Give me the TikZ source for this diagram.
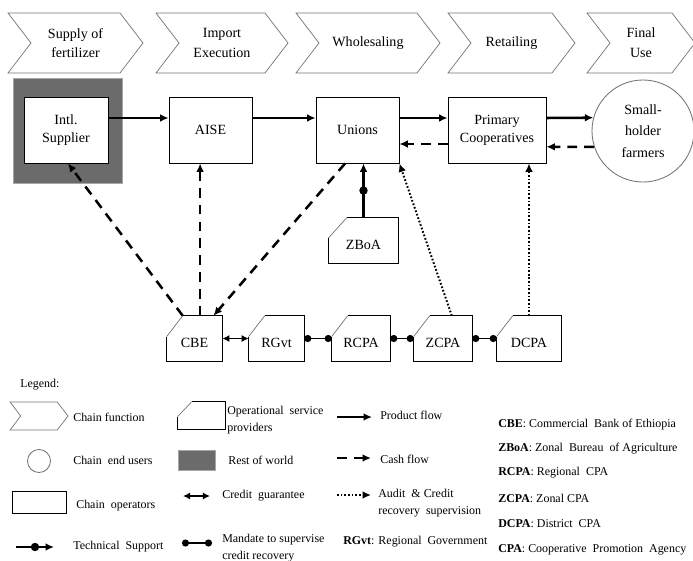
\documentclass[tikz,border=0pt]{standalone}
\usepackage{fontspec}
\setmainfont{Liberation Serif}
\usetikzlibrary{arrows.meta,shapes.symbols,decorations.markings}

\begin{document}
\begin{tikzpicture}[
    x=0.025cm,y=-0.025cm,
    chev/.style={signal, signal from=west, signal to=east, signal pointer angle=105, draw=black!55, line width=0.5pt, minimum height=1.5cm, inner sep=0pt, font=\fontsize{10}{14}\selectfont, align=center},
    box/.style={draw=black, line width=0.6pt, fill=white, minimum height=1.65cm, inner sep=2pt, font=\fontsize{10}{13}\selectfont, align=center},
    world/.style={fill=black!58, draw=black!35, minimum width=2.725cm, minimum height=2.625cm},
    user/.style={circle, draw=black!55, line width=0.6pt, minimum size=2.55cm, inner sep=0pt, font=\fontsize{10}{15.5}\selectfont, align=center},
    op/.style={minimum height=1.125cm, inner sep=0pt, text height=13.5pt, text depth=0pt, font=\fontsize{10}{12}\selectfont},
    opline/.style={draw=black, line width=0.6pt},
    opcut/.style={draw=black!55, line width=0.5pt},
    product/.style={-{Latex[length=6pt,width=5.5pt]}, line width=1.8pt},
    cash/.style={product, dash pattern=on 7pt off 5pt},
    audit/.style={-{Latex[length=6pt,width=5.5pt]}, line width=1.4pt, dash pattern=on 1.2pt off 1.4pt},
    guar/.style={{Latex[length=5pt,width=5pt]}-{Latex[length=5pt,width=5pt]}, line width=1.4pt},
    mandate/.style={{Circle[length=5pt]}-{Circle[length=5pt]}, line width=1.4pt},
    tech/.style={-{Latex[length=6pt,width=5.5pt]}, line width=1.6pt, postaction={decorate}, decoration={markings, mark=at position 0.5 with {\fill (0,0) circle (3pt);}}},
    lab/.style={font=\fontsize{8.5}{12}\selectfont, anchor=west, align=left, inner sep=0pt}
  ]
    \useasboundingbox (0,0) rectangle (693,561);

    \node[chev, minimum width=3.375cm] (f1) at (75.5,43) {Supply of\\fertilizer};
    \node[chev, minimum width=3.3cm] (f2) at (222,43) {Import\\Execution};
    \node[chev, minimum width=3.6cm] (f3) at (368,43) {Wholesaling};
    \node[chev, minimum width=3.175cm] (f4) at (511.5,43) {Retailing};
    \node[chev, minimum width=2.7cm] (f5) at (641,43) {Final\\Use};

    \node[world] (world) at (67.5,130.5) {};
    \node[box, minimum width=2.1cm] (intl) at (66,130) {Intl.\\Supplier};
    \node[box, minimum width=2.075cm] (aise) at (210.5,130) {AISE};
    \node[box, minimum width=2.075cm] (unions) at (357.5,130) {Unions};
    \node[box, minimum width=2.45cm] (prim) at (497,130) {Primary\\Cooperatives};
    \node[user] (farm) at (643,131) {Small-\\holder\\farmers};

    \node[op, minimum width=1.725cm] (zboa) at (363.5,240.5) {ZBoA};
    \node[op, minimum width=1.375cm] (cbe) at (194.5,338.5) {CBE};
    \node[op, minimum width=1.375cm] (rgvt) at (276.5,338.5) {RGvt};
    \node[op, minimum width=1.45cm] (rcpa) at (361,338.5) {RCPA};
    \node[op, minimum width=1.45cm] (zcpa) at (443,338.5) {ZCPA};
    \node[op, minimum width=1.6cm] (dcpa) at (529,338.5) {DCPA};
    \node[op, minimum width=1.175cm, minimum height=0.675cm] (keyop) at (201.5,415.5) {};

    \foreach \n/\cy/\cx in {zboa/0.5cm/0.45cm, cbe/0.52cm/0.4cm, rgvt/0.52cm/0.4cm, rcpa/0.52cm/0.4cm, zcpa/0.52cm/0.4cm, dcpa/0.52cm/0.4cm, keyop/0.37cm/0.35cm} {
      \draw[opline] ([yshift=-\cy]\n.north west) -- (\n.south west) -- (\n.south east) -- (\n.north east) -- ([xshift=\cx]\n.north west);
      \draw[opcut] ([xshift=\cx]\n.north west) -- ([yshift=-\cy]\n.north west);
    }

    \draw[product] ([yshift=0.3cm]intl.east) -- ([yshift=0.3cm]aise.west);
    \draw[product] ([yshift=0.3cm]aise.east) -- ([yshift=0.3cm]unions.west);
    \draw[product] ([yshift=0.3cm]unions.east) -- ([yshift=0.3cm]prim.west);
    \draw[product] ([yshift=0.3cm]prim.east) -- (farm.165);
    \draw[cash] (farm.198) -- ([yshift=-0.42cm]prim.east);
    \draw[cash] ([yshift=-0.35cm]prim.west) -- ([yshift=-0.35cm]unions.east);

    \draw[cash] ([xshift=0.4cm]cbe.north west) -- ([xshift=0.05cm]intl.south);
    \draw[cash] ([xshift=0.14cm]cbe.north) -- ([xshift=0.14cm]cbe.north |- aise.south);
    \draw[cash] ([xshift=-0.31cm]unions.south) -- ([xshift=-0.22cm]cbe.north east);
    \draw[tech] (zboa.north) -- (zboa.north |- unions.south);
    \draw[audit] ([xshift=0.22cm]zcpa.north) -- (unions.south east);
    \draw[audit] (dcpa.north) -- (dcpa.north |- prim.south);

    \draw[guar] (cbe.east) -- (rgvt.west);
    \draw[mandate] (rgvt.east) -- (rcpa.west);
    \draw[mandate] (rcpa.east) -- (zcpa.west);
    \draw[mandate] (zcpa.east) -- (dcpa.west);

    \node[lab] (legend) at (20,385) {Legend:};
    \node[chev, minimum width=1.45cm, minimum height=0.7cm] (keychev) at (39,416) {};
    \node[lab] (keychevt) at (73,417) {Chain function};
    \node[user, minimum size=0.575cm] (keyuser) at (39,461) {};
    \node[lab] (keyusert) at (73,460) {Chain\ \ end users};
    \node[box, minimum width=1.35cm, minimum height=0.55cm] (keybox) at (39,502) {};
    \node[lab] (keyboxt) at (76,506) {Chain\ \ operators};
    \coordinate (ts1) at (16,547);
    \coordinate (ts2) at (54,547);
    \draw[tech] (ts1) -- (ts2);
    \node[lab] (tst) at (73,547) {Technical\ \ Support};

    \node[lab] (keyopt) at (227,420) {Operational\ \ service\\providers};
    \node[world, minimum width=0.925cm, minimum height=0.5cm] (keyworld) at (196.5,460) {};
    \node[lab] (keyworldt) at (228,460) {Rest of world};
    \coordinate (cg1) at (183,496);
    \coordinate (cg2) at (210,496);
    \draw[guar] (cg1) -- (cg2);
    \node[lab] (cgt) at (222,496) {Credit\ \ guarantee};
    \coordinate (md1) at (182,543);
    \coordinate (md2) at (212,543);
    \draw[mandate] (md1) -- (md2);
    \node[lab] (mdt) at (222,548) {Mandate to supervise\\credit recovery};

    \coordinate (pf1) at (337,417);
    \coordinate (pf2) at (372,417);
    \draw[product] (pf1) -- (pf2);
    \node[lab] (pft) at (380,415) {Product flow};
    \coordinate (cf1) at (337,458);
    \coordinate (cf2) at (371,458);
    \draw[cash] (cf1) -- (cf2);
    \node[lab] (cft) at (380,459) {Cash flow};
    \coordinate (au1) at (337,495);
    \coordinate (au2) at (371,495);
    \draw[audit] (au1) -- (au2);
    \node[lab] (aut) at (378,503) {Audit\ \ \& Credit\\recovery\ \ supervision};
    \node[lab] (rgvtt) at (343,542) {\textbf{RGvt}: Regional\ \ Government};

    \node[lab] (cbet) at (498,425) {\textbf{CBE}: Commercial\ \ Bank of Ethiopia};
    \node[lab] (zboat) at (498,449) {\textbf{ZBoA}: Zonal\ \ Bureau\ \ of Agriculture};
    \node[lab] (rcpat) at (498,473) {\textbf{RCPA}: Regional\ \ CPA};
    \node[lab] (zcpat) at (498,498) {\textbf{ZCPA}: Zonal CPA};
    \node[lab] (dcpat) at (498,524) {\textbf{DCPA}: District\ \ CPA};
    \node[lab] (cpat) at (498,550) {\textbf{CPA}: Cooperative\ \ Promotion\ \ Agency};
  \end{tikzpicture}
\end{document}
